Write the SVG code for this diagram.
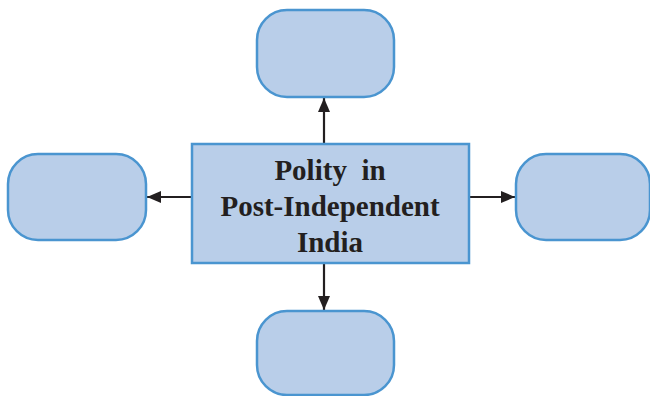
<svg xmlns="http://www.w3.org/2000/svg" width="650" height="396" viewBox="0 0 650 396">
<defs>
<style>
.node{fill:#b9cee9;stroke:#4a95d0;stroke-width:2.5}
.conn{stroke:#231f20;stroke-width:2.2;fill:none}
.t{font-family:"Liberation Serif","Times New Roman",serif;font-weight:bold;font-size:29px;fill:#231f20;text-anchor:middle;white-space:pre}
</style>
<marker id="ah" viewBox="0 0 14 12" refX="14" refY="6" markerWidth="14" markerHeight="12" markerUnits="userSpaceOnUse" orient="auto">
<path d="M0,0 L14,6 L0,12 z" fill="#231f20"/>
</marker>
</defs>
<rect width="650" height="396" fill="#ffffff"/>
<g id="connectors">
<line class="conn" x1="324" y1="144" x2="324" y2="98" marker-end="url(#ah)"/>
<line class="conn" x1="324" y1="264" x2="324" y2="310" marker-end="url(#ah)"/>
<line class="conn" x1="192" y1="197" x2="147" y2="197" marker-end="url(#ah)"/>
<line class="conn" x1="469" y1="197" x2="515" y2="197" marker-end="url(#ah)"/>
</g>
<g id="top"><rect class="node" x="257" y="10" width="137" height="87" rx="30"/></g>
<g id="left"><rect class="node" x="8" y="154" width="138" height="86" rx="30"/></g>
<g id="right"><rect class="node" x="516" y="154" width="134" height="86" rx="30"/></g>
<g id="bottom"><rect class="node" x="257" y="311" width="137" height="84" rx="30"/></g>
<g id="center">
<rect class="node" x="192" y="144" width="277" height="119"/>
<text class="t" x="330" y="180" xml:space="preserve">Polity  in</text>
<text class="t" x="330" y="216">Post-Independent</text>
<text class="t" x="330" y="252">India</text>
</g>
</svg>
